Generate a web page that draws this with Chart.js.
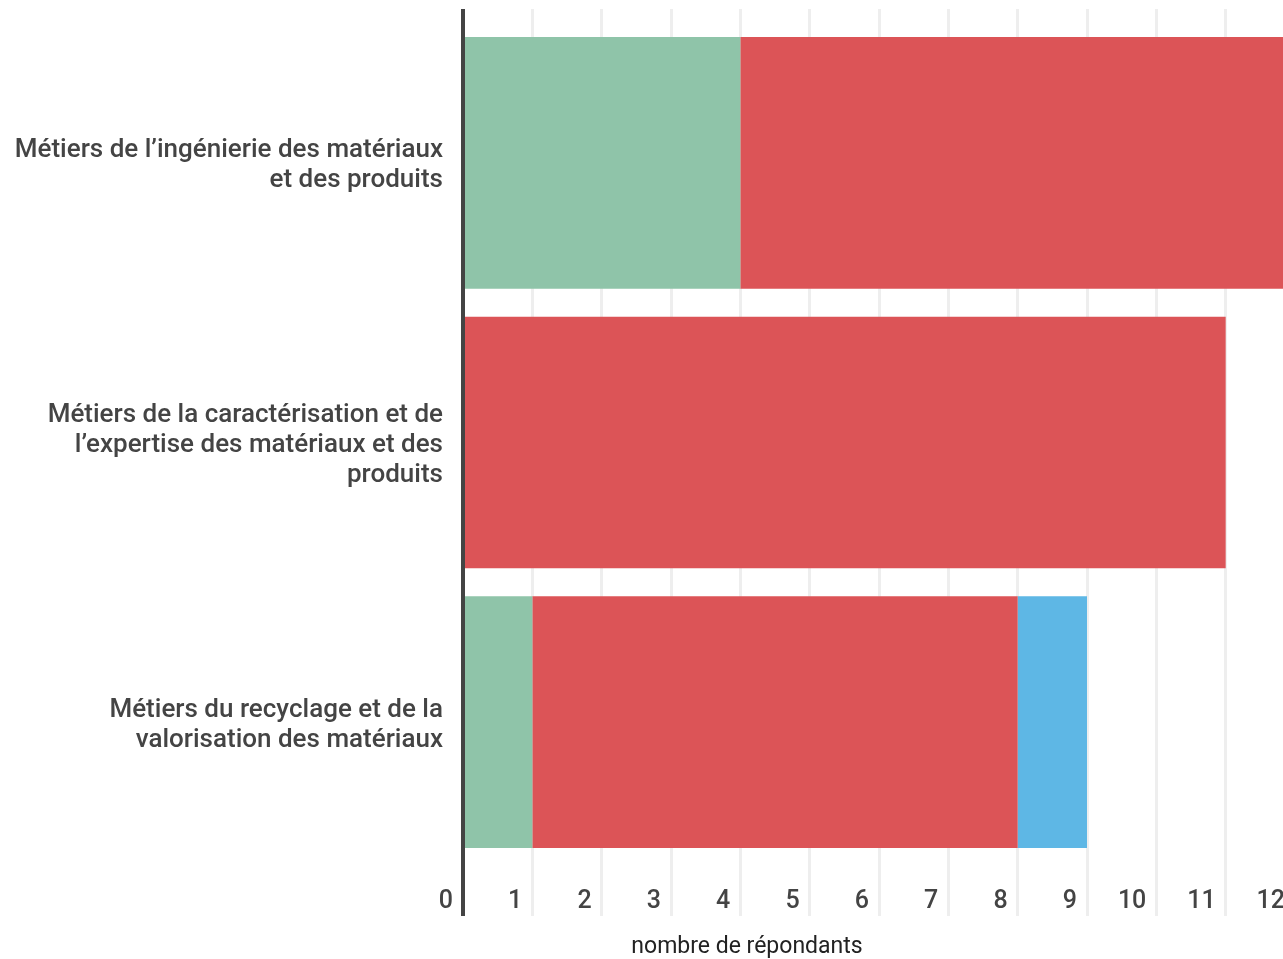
<!DOCTYPE html>
<html>
<head>
<meta charset="utf-8">
<script src="https://cdn.jsdelivr.net/npm/chart.js@4"></script>
<style>
  html, body { margin: 0; padding: 0; background: #fff; overflow: hidden; }
  #wrap { position: relative; width: 1300px; height: 959px; }
</style>
</head>
<body>
<div id="wrap"><canvas id="chart"></canvas></div>
<script>
// categories (multi-line labels)
const categories = [
    ['Métiers de l’ingénierie des matériaux', 'et des produits'],
    ['Métiers de la caractérisation et de', 'l’expertise des matériaux et des', 'produits'],
    ['Métiers du recyclage et de la', 'valorisation des matériaux']
];
// series values
const greenValues = [4, 0, 1];
const redValues = [8, 11, 7];
const blueValues = [0, 0, 1];
const axisTitle = 'nombre de répondants';

const gridColor = ctx => ctx.tick && ctx.tick.value === 0 ? '#444444' : '#eeeeee';
const gridWidth = ctx => ctx.tick && ctx.tick.value === 0 ? 4 : 3;

// bottom axis title
const titlePlugin = {
    id: 'axisTitle',
    afterDraw(chart) {
        const ctx = chart.ctx;
        ctx.save();
        ctx.font = '400 23px Roboto';
        ctx.fillStyle = '#222222';
        ctx.textAlign = 'center';
        ctx.textBaseline = 'alphabetic';
        ctx.fillText(axisTitle, 747, 953);
        ctx.restore();
    }
};

Chart.defaults.font.family = 'Roboto';

const chartCtx = document.getElementById('chart').getContext('2d');
const chart = new Chart(chartCtx, {
    type: 'bar',
    data: {
        labels: categories,
        datasets: [
            { label: 'Série 1', data: greenValues, backgroundColor: '#8fc4a9' },
            { label: 'Série 2', data: redValues, backgroundColor: '#dc5457' },
            { label: 'Série 3', data: blueValues, backgroundColor: '#5eb7e5' }
        ]
    },
    options: {
        indexAxis: 'y',
        responsive: true,
        maintainAspectRatio: false,
        animation: false,
        layout: { padding: { top: 9, right: 5, bottom: 0, left: 0 } },
        datasets: {
            bar: { barPercentage: 0.9, categoryPercentage: 1, borderWidth: 0 }
        },
        plugins: {
            legend: { display: false },
            tooltip: { enabled: false }
        },
        scales: {
            x: {
                type: 'linear',
                position: 'bottom',
                stacked: true,
                min: 0,
                max: 12,
                grid: {
                    color: gridColor,
                    lineWidth: gridWidth,
                    tickLength: 54
                },
                border: { display: false },
                ticks: {
                    stepSize: 1,
                    align: 'end',
                    labelOffset: -10,
                    padding: -29,
                    color: '#444444',
                    font: { size: 25, weight: 500 }
                },
                afterFit(scale) { scale.height = 97; }
            },
            xTop: {
                type: 'linear',
                axis: 'x',
                position: 'top',
                min: 0,
                max: 12,
                grid: {
                    color: gridColor,
                    lineWidth: gridWidth,
                    drawOnChartArea: false,
                    tickLength: 14
                },
                border: { display: false },
                ticks: { stepSize: 1, display: false }
            },
            y: {
                stacked: true,
                z: 1,
                grid: { display: false, drawTicks: false },
                border: { display: true, color: '#444444', width: 4 },
                ticks: {
                    padding: 20,
                    labelOffset: 3,
                    color: '#444444',
                    font: { size: 26, weight: 500, lineHeight: 1.154 }
                },
                afterFit(scale) {
                    scale.width = 463;
                    scale.paddingTop = 0;
                    scale.paddingBottom = 0;
                }
            }
        }
    },
    plugins: [titlePlugin]
});
</script>
</body>
</html>
